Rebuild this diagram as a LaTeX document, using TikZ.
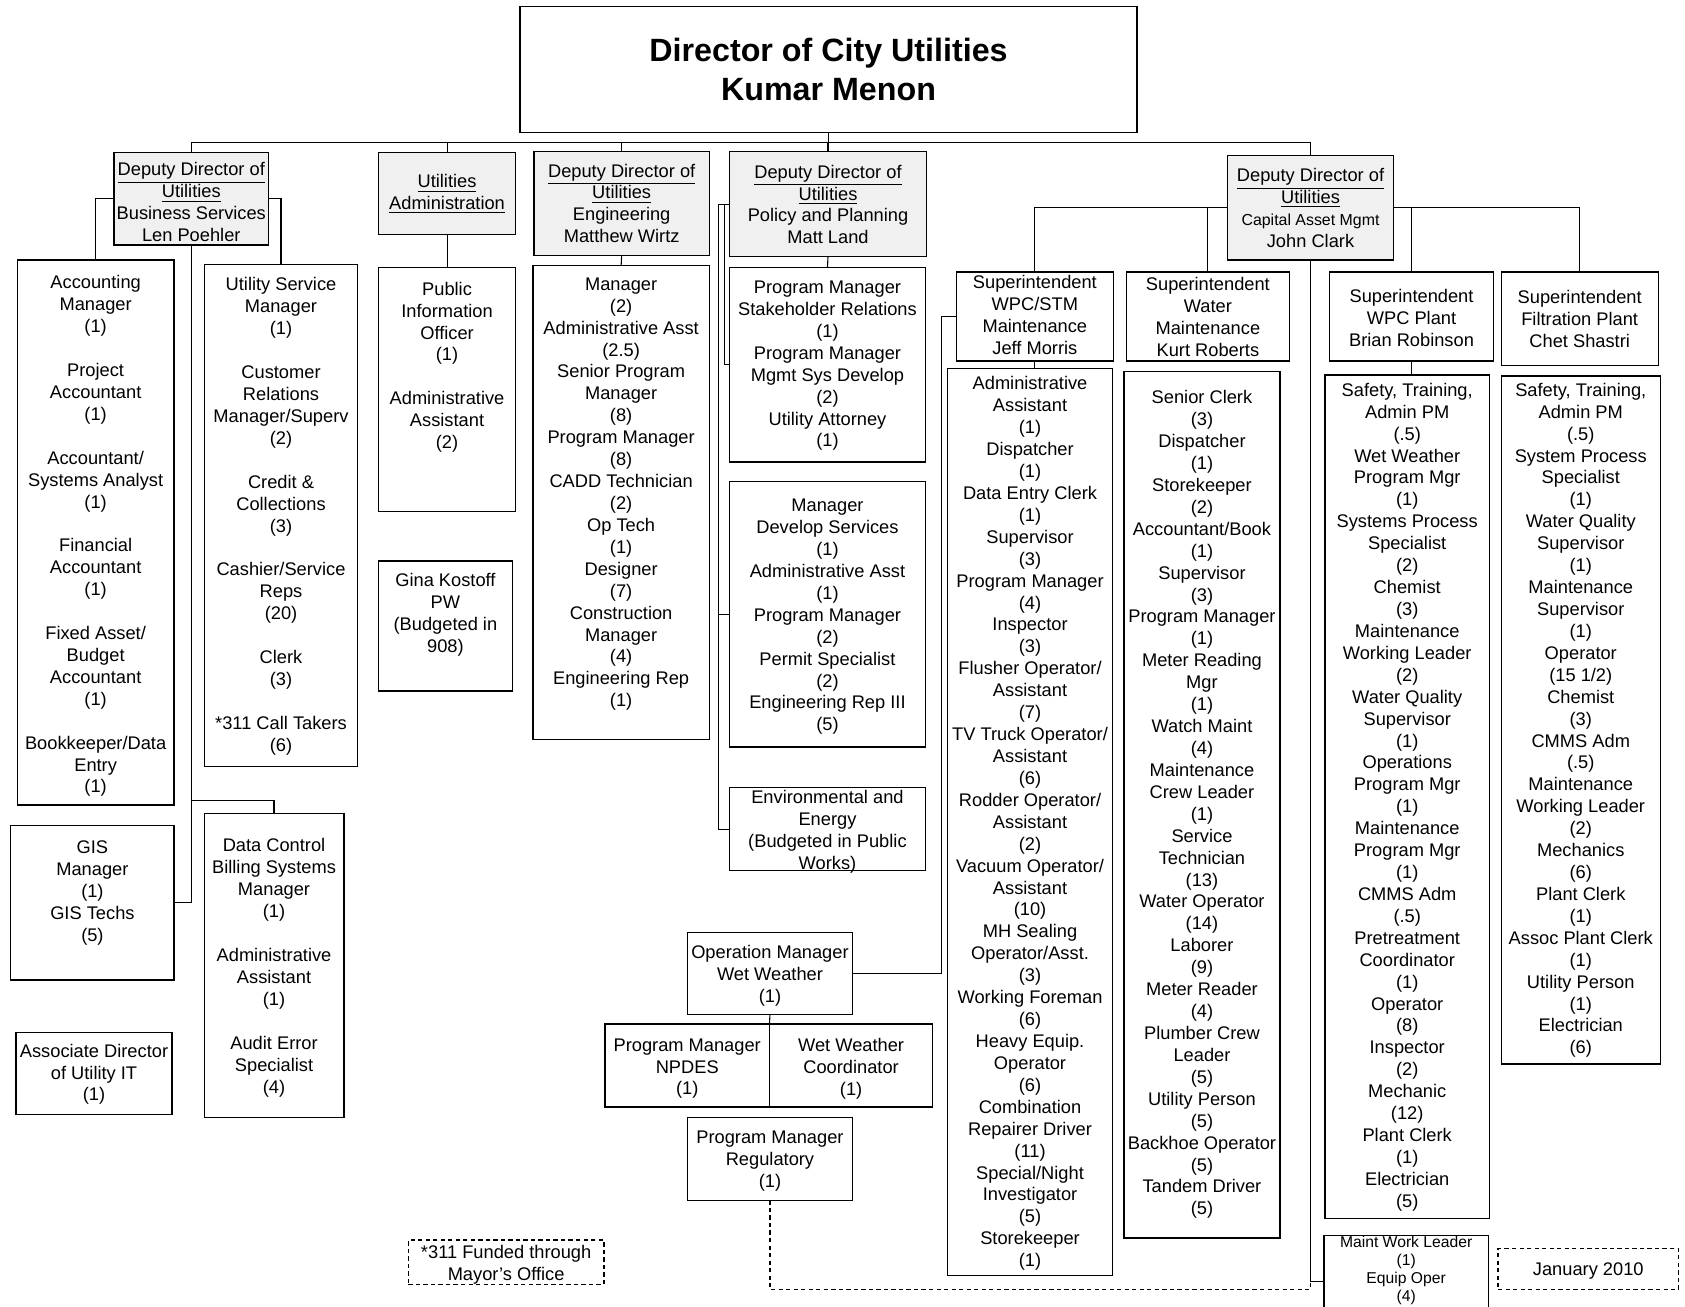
\documentclass[tikz,border=0pt]{standalone}
\usepackage{fontspec}
\setmainfont{Liberation Sans}
\newcommand{\orgbox}[9]{%
  \node[bx,#1,anchor=north west,minimum width={(#6-#4)*0.5pt},minimum height={(#7-#5)*0.5pt}] (#3) at (#4,#5) {};
  \node[txt,#2,anchor=north] (#3t) at ({(#4+#6)/2},{#8-6}) {#9};
}
\tikzset{
  bx/.style={draw,line width=0.6pt,inner sep=0pt,outer sep=0pt},
  dep/.style={fill=black!6},
  dsh/.style={dash pattern=on 2pt off 1.5pt},
  txt/.style={align=center,inner sep=0pt,font=\fontsize{8.5}{10.2}\selectfont},
  smalltxt/.style={font=\fontsize{7.3}{8.4}\selectfont},
  conn/.style={line width=0.5pt},
}
\begin{document}
\begin{tikzpicture}[x=0.5pt,y=-0.5pt]
\useasboundingbox (0,0) rectangle (1568,1216);
\fill[white] (0,0) rectangle (1568,1216);
\clip (0,0) rectangle (1568,1216);

% Director
\node[bx,anchor=north west,minimum width={574*0.5pt},minimum height={117*0.5pt}] (dir) at (484,6) {};
\node[align=center,inner sep=0pt,font=\bfseries\fontsize{15}{18}\selectfont] (dirt) at (dir.center) {Director of City Utilities\\Kumar Menon};

% Deputy level
\orgbox{dep}{}{bs}{106}{142}{250}{228}{157}{\underline{Deputy Director of}\\\underline{Utilities}\\Business Services\\Len Poehler}
\orgbox{dep}{}{ua}{352}{142}{480}{218}{168}{\underline{Utilities}\\\underline{Administration}}
\orgbox{dep}{}{eng}{497}{141}{660}{238}{158}{\underline{Deputy Director of}\\\underline{Utilities}\\Engineering\\Matthew Wirtz}
\orgbox{dep}{}{pol}{679}{141}{862}{239}{159}{\underline{Deputy Director of}\\\underline{Utilities}\\Policy and Planning\\Matt Land}
\orgbox{dep}{}{cap}{1142}{145}{1297}{242}{162}{\underline{Deputy Director of}\\\underline{Utilities}\\{\fontsize{7.4}{10.2}\selectfont Capital Asset Mgmt}\\John Clark}

% Business services
\orgbox{}{}{acct}{16}{242}{162}{749}{262}{Accounting\\Manager\\(1)\\[10.2pt]Project\\Accountant\\(1)\\[10.2pt]Accountant/\\Systems Analyst\\(1)\\[10.2pt]Financial\\Accountant\\(1)\\[10.2pt]Fixed Asset/\\Budget\\Accountant\\(1)\\[10.2pt]Bookkeeper/Data\\Entry\\(1)}
\orgbox{}{}{usm}{190}{246}{333}{713}{264}{Utility Service\\Manager\\(1)\\[10.2pt]Customer\\Relations\\Manager/Superv\\(2)\\[10.2pt]Credit \&\\Collections\\(3)\\[10.2pt]Cashier/Service\\Reps\\(20)\\[10.2pt]Clerk\\(3)\\[10.2pt]{}*311 Call Takers\\(6)}
\orgbox{}{}{gis}{10}{768}{162}{912}{788}{GIS\\Manager\\(1)\\GIS Techs\\(5)}
\orgbox{}{}{dc}{190}{757}{320}{1040}{786}{Data Control\\Billing Systems\\Manager\\(1)\\[10.2pt]Administrative\\Assistant\\(1)\\[10.2pt]Audit Error\\Specialist\\(4)}
\orgbox{}{}{assoc}{15}{961}{160}{1037}{977}{Associate Director\\of Utility IT\\(1)}

% Utilities administration
\orgbox{}{}{pio}{352}{249}{480}{476}{268}{Public\\Information\\Officer\\(1)\\[10.2pt]Administrative\\Assistant\\(2)}
\orgbox{}{}{gina}{352}{522}{477}{643}{539}{Gina Kostoff\\PW\\(Budgeted in\\908)}

% Engineering
\orgbox{}{}{englist}{496}{247}{660}{688}{264}{Manager\\(2)\\Administrative Asst\\(2.5)\\Senior Program\\Manager\\(8)\\Program Manager\\(8)\\CADD Technician\\(2)\\Op Tech\\(1)\\Designer\\(7)\\Construction\\Manager\\(4)\\Engineering Rep\\(1)}

% Policy and planning
\orgbox{}{}{pol1}{679}{249}{861}{430}{267}{Program Manager\\Stakeholder Relations\\(1)\\Program Manager\\Mgmt Sys Develop\\(2)\\Utility Attorney\\(1)}
\orgbox{}{}{dev}{679}{448}{861}{695}{470}{Manager\\Develop Services\\(1)\\Administrative Asst\\(1)\\Program Manager\\(2)\\Permit Specialist\\(2)\\Engineering Rep III\\(5)}
\orgbox{}{}{env}{679}{733}{861}{810}{741}{Environmental and\\Energy\\(Budgeted in Public\\Works)}

% Wet weather
\orgbox{}{}{opm}{640}{868}{793}{944}{885}{Operation Manager\\Wet Weather\\(1)}
\orgbox{}{}{npdes}{563}{953}{716}{1030}{972}{Program Manager\\NPDES\\(1)}
\orgbox{}{}{wwc}{716}{953}{868}{1030}{972}{Wet Weather\\Coordinator\\(1)}
\orgbox{}{}{reg}{640}{1040}{793}{1117}{1058}{Program Manager\\Regulatory\\(1)}

% Notes
\orgbox{dsh}{}{n311}{380}{1154}{562}{1195}{1164}{{}*311 Funded through\\Mayor's Office}
\orgbox{dsh}{}{jan}{1394}{1162}{1562}{1200}{1181}{January 2010}

% Capital asset management
\orgbox{}{}{wstm}{890}{253}{1036}{336}{262}{Superintendent\\WPC/STM\\Maintenance\\Jeff Morris}
\orgbox{}{}{wsup}{1048}{253}{1200}{336}{264}{Superintendent\\Water\\Maintenance\\Kurt Roberts}
\orgbox{}{}{wpcp}{1237}{253}{1390}{336}{275}{Superintendent\\WPC Plant\\Brian Robinson}
\orgbox{}{}{filt}{1397}{253}{1543}{340}{276}{Superintendent\\Filtration Plant\\Chet Shastri}

\orgbox{}{}{wlist}{882}{343}{1035}{1187}{356}{Administrative\\Assistant\\(1)\\Dispatcher\\(1)\\Data Entry Clerk\\(1)\\Supervisor\\(3)\\Program Manager\\(4)\\Inspector\\(3)\\Flusher Operator/\\Assistant\\(7)\\TV Truck Operator/\\Assistant\\(6)\\Rodder Operator/\\Assistant\\(2)\\Vacuum Operator/\\Assistant\\(10)\\MH Sealing\\Operator/Asst.\\(3)\\Working Foreman\\(6)\\Heavy Equip.\\Operator\\(6)\\Combination\\Repairer Driver\\(11)\\Special/Night\\Investigator\\(5)\\Storekeeper\\(1)}
\orgbox{}{}{walist}{1046}{346}{1191}{1152}{369}{Senior Clerk\\(3)\\Dispatcher\\(1)\\Storekeeper\\(2)\\Accountant/Book\\(1)\\Supervisor\\(3)\\Program Manager\\(1)\\Meter Reading\\Mgr\\(1)\\Watch Maint\\(4)\\Maintenance\\Crew Leader\\(1)\\Service\\Technician\\(13)\\Water Operator\\(14)\\Laborer\\(9)\\Meter Reader\\(4)\\Plumber Crew\\Leader\\(5)\\Utility Person\\(5)\\Backhoe Operator\\(5)\\Tandem Driver\\(5)}
\orgbox{}{}{plist}{1233}{349}{1386}{1134}{362}{Safety, Training,\\Admin PM\\(.5)\\Wet Weather\\Program Mgr\\(1)\\Systems Process\\Specialist\\(2)\\Chemist\\(3)\\Maintenance\\Working Leader\\(2)\\Water Quality\\Supervisor\\(1)\\Operations\\Program Mgr\\(1)\\Maintenance\\Program Mgr\\(1)\\CMMS Adm\\(.5)\\Pretreatment\\Coordinator\\(1)\\Operator\\(8)\\Inspector\\(2)\\Mechanic\\(12)\\Plant Clerk\\(1)\\Electrician\\(5)}
\orgbox{}{}{flist}{1397}{350}{1545}{990}{362}{Safety, Training,\\Admin PM\\(.5)\\System Process\\Specialist\\(1)\\Water Quality\\Supervisor\\(1)\\Maintenance\\Supervisor\\(1)\\Operator\\(15 1/2)\\Chemist\\(3)\\CMMS Adm\\(.5)\\Maintenance\\Working Leader\\(2)\\Mechanics\\(6)\\Plant Clerk\\(1)\\Assoc Plant Clerk\\(1)\\Utility Person\\(1)\\Electrician\\(6)}
\orgbox{}{smalltxt}{maint}{1232}{1150}{1385}{1235}{1156}{Maint Work Leader\\(1)\\Equip Oper\\(4)}

% ---------- connectors ----------
\coordinate (bus) at (0,133);
\coordinate (bsj) at (178,745);
\coordinate (pj1) at (674,0);
\coordinate (pj2) at (669,0);
\coordinate (wjx) at (876,0);
\coordinate (rj) at (1219.5,1200);

\draw[conn] (dir.south) -- (dir.south |- bus);
\draw[conn] (bs.north) |- (cap.north |- bus) -- (cap.north);
\draw[conn] (ua.north) -- (ua.north |- bus);
\draw[conn] (eng.north) -- (eng.north |- bus);
\draw[conn] (pol.north) -- (pol.north |- bus);

\draw[conn] (bs.west) -| (acct.north);
\draw[conn] (bs.east) -| (usm.north);
\draw[conn] (bs.south) |- (gis.east);
\draw[conn] (bsj) -| (dc.north);

\draw[conn] (ua.south) -- (pio.north);
\draw[conn] (eng.south) -- (englist.north);
\draw[conn] (pol.south) -- (pol1.north);
\draw[conn] (pol.west) -| (pj1 |- pol1.west) -- (pol1.west);
\draw[conn] (pol.west) -| (pj2 |- env.west) -- (env.west);
\draw[conn] (pj2 |- dev.west) -- (dev.west);

\draw[conn] (cap.west) -| (wstm.north);
\draw[conn] (cap.west) -| (wsup.north);
\draw[conn] (cap.east) -| (wpcp.north);
\draw[conn] (cap.east) -| (filt.north);
\draw[conn] (wstm.south) -- (wstm.south |- wlist.north);
\draw[conn] (wpcp.south) -- (wpcp.south |- plist.north);
\draw[conn] (cap.south) |- (maint.west);
\draw[conn,dsh] (reg.south) |- (rj) -- (cap.south |- maint.west);

\draw[conn] (opm.east) -| (wjx |- wstm.west) -- (wstm.west);
\draw[conn] (opm.south) -- (npdes.north east);
\end{tikzpicture}
\end{document}
